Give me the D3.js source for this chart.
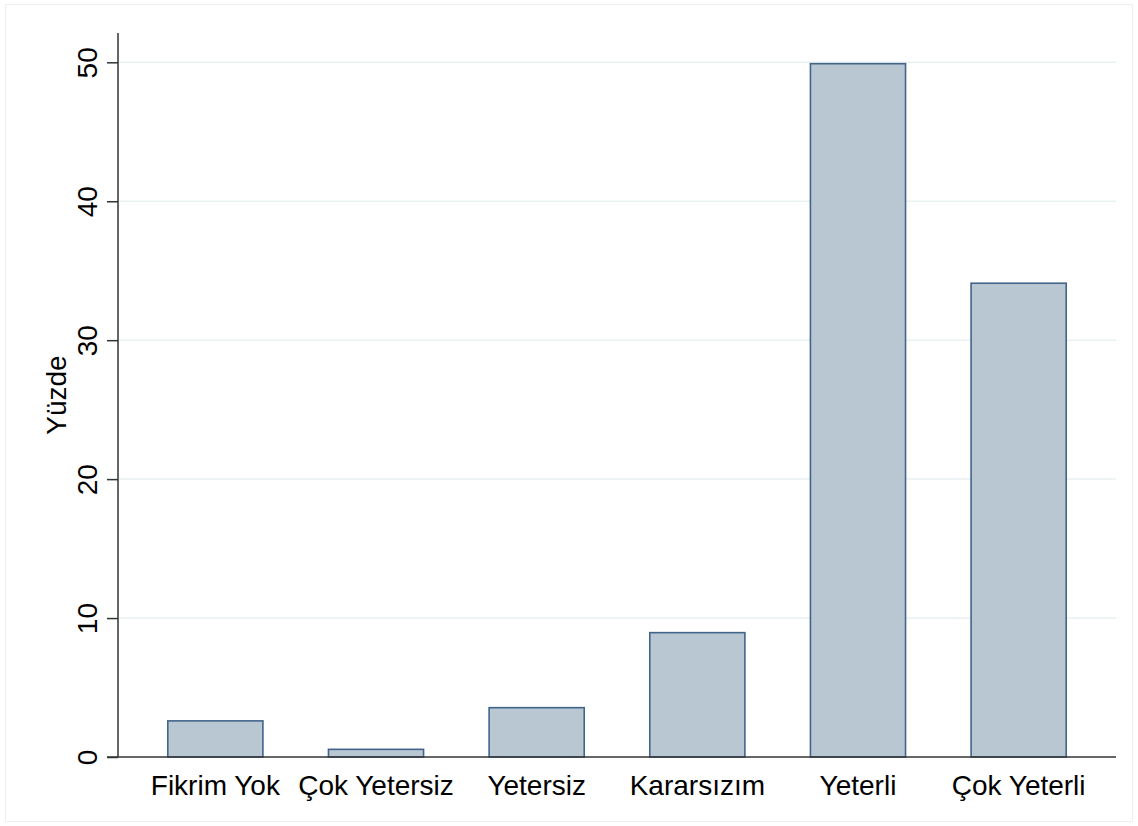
<!DOCTYPE html>
<html>
<head>
<meta charset="utf-8">
<script src="https://cdn.jsdelivr.net/npm/d3@7"></script>
<style>
  body { margin: 0; background: #fff; }
  text { font-family: "Liberation Sans", Arial, sans-serif; fill: #000; }
</style>
</head>
<body>
<div id="chart"></div>
<script>
// Data
var categories = ["Fikrim Yok", "Çok Yetersiz", "Yetersiz", "Kararsızım", "Yeterli", "Çok Yeterli"];
var percents = [2.6, 0.55, 3.55, 8.95, 49.9, 34.1];
var yTicks = [0, 10, 20, 30, 40, 50];

var svgWidth = 1138;
var svgHeight = 826;

// plot region (pixels)
var plot = { left: 118, right: 1116, top: 33, bottom: 757 };

var svg = d3.select("#chart")
    .append("svg")
    .attr("width", svgWidth)
    .attr("height", svgHeight);

// faint outer frame
svg.append("rect")
    .attr("x", 5.5)
    .attr("y", 4.5)
    .attr("width", svgWidth - 11)
    .attr("height", svgHeight - 9)
    .attr("fill", "#fff")
    .attr("stroke", "#eeeeee")
    .attr("stroke-width", 1);

var xScale = d3.scaleBand()
    .domain(categories)
    .range([plot.left, plot.right])
    .paddingInner(0.408)
    .paddingOuter(0.31);

var yScale = d3.scaleLinear()
    .domain([0, 50])
    .range([plot.bottom, 62.3]);

// gridlines
svg.append("g")
    .selectAll("line")
    .data(yTicks.filter(function (d) { return d > 0; }))
    .enter()
    .append("line")
    .attr("x1", plot.left)
    .attr("x2", plot.right)
    .attr("y1", function (d) { return yScale(d); })
    .attr("y2", function (d) { return yScale(d); })
    .attr("stroke", "#e8f1f2")
    .attr("stroke-width", 1.5);

// bars
svg.append("g")
    .selectAll("rect")
    .data(percents)
    .enter()
    .append("rect")
    .attr("x", function (d, i) { return xScale(categories[i]); })
    .attr("y", function (d) { return yScale(d); })
    .attr("width", xScale.bandwidth())
    .attr("height", function (d) { return yScale(0) - yScale(d); })
    .attr("fill", "#b9c7d3")
    .attr("stroke", "#41658a")
    .attr("stroke-width", 1.6);

// y axis (ticks + rotated labels)
var leftAxis = d3.axisLeft(yScale)
    .tickValues(yTicks)
    .tickSize(11)
    .tickSizeOuter(0);

var yAxisGroup = svg.append("g")
    .attr("transform", "translate(" + plot.left + ",0)")
    .call(leftAxis);

yAxisGroup.select(".domain").remove();
yAxisGroup.selectAll(".tick line")
    .attr("stroke", "#333")
    .attr("stroke-width", 1.5);
yAxisGroup.selectAll(".tick text")
    .attr("x", 0)
    .attr("y", 0)
    .attr("dy", 0)
    .attr("transform", "translate(-21,0) rotate(-90)")
    .attr("text-anchor", "middle")
    .style("font-size", "28px")
    .style("font-family", "'Liberation Sans', Arial, sans-serif")
    .attr("fill", "#000");

svg.append("line")
    .attr("x1", plot.left)
    .attr("x2", plot.left)
    .attr("y1", plot.top)
    .attr("y2", plot.bottom)
    .attr("stroke", "#333")
    .attr("stroke-width", 1.5);

// x axis
var bottomAxis = d3.axisBottom(xScale)
    .tickSize(0)
    .tickSizeOuter(0);

var xAxisGroup = svg.append("g")
    .attr("transform", "translate(0," + plot.bottom + ")")
    .call(bottomAxis);

xAxisGroup.select(".domain").remove();
xAxisGroup.selectAll(".tick text")
    .attr("y", 0)
    .attr("dy", 38)
    .style("font-size", "28px")
    .style("font-family", "'Liberation Sans', Arial, sans-serif")
    .attr("fill", "#000");

svg.append("line")
    .attr("x1", plot.left - 11)
    .attr("x2", plot.right)
    .attr("y1", plot.bottom)
    .attr("y2", plot.bottom)
    .attr("stroke", "#333")
    .attr("stroke-width", 1.5);

// y axis title
svg.append("text")
    .attr("transform", "translate(66," + (plot.top + plot.bottom) / 2 + ") rotate(-90)")
    .attr("text-anchor", "middle")
    .style("font-size", "28px")
    .text("Yüzde");
</script>
</body>
</html>
